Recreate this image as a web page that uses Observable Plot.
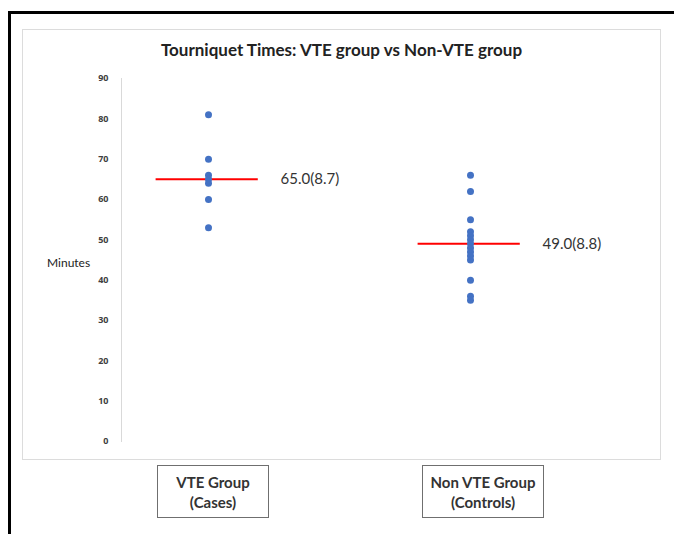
<!DOCTYPE html>
<html><head><meta charset="utf-8">
<script src="https://cdn.jsdelivr.net/npm/d3@7"></script>
<script src="https://cdn.jsdelivr.net/npm/@observablehq/plot@0.6"></script>
<style>
body{margin:0;background:#fff;font-family:Lato,"Open Sans",sans-serif;}
#root{position:relative;width:674px;height:534px;overflow:hidden;}
#frame{position:absolute;left:8px;top:11px;width:700px;height:600px;border-left:3px solid #000;border-top:3px solid #000;}
#panel{position:absolute;left:22px;top:29px;width:637px;height:429px;border:1px solid #dcdcdc;}
#title{position:absolute;left:22px;width:639px;top:40px;text-align:center;font-weight:bold;font-size:17px;line-height:20px;color:#222;}
#ylab{position:absolute;left:47px;top:255px;font-size:12px;color:#222;}
#chart{position:absolute;left:0;top:0;}
.box{position:absolute;top:465px;height:53px;border:1.5px solid #6f6f6f;box-sizing:border-box;display:flex;align-items:center;justify-content:center;text-align:center;font-weight:bold;font-size:15px;line-height:20px;color:#333;}
</style>
</head><body>
<div id="root">
<div id="frame"></div>
<div id="panel"></div>
<div id="title">Tourniquet Times: VTE group vs Non-VTE group</div>
<div id="ylab">Minutes</div>
<div id="chart"></div>
</div>
<script>
const groups = ["VTE Group", "Non VTE Group"];
const groupLines = [["VTE Group", "(Cases)"], ["Non VTE Group", "(Controls)"]];
const vteTimes = [81, 70, 66, 65, 64, 60, 53];
const nonVteTimes = [66, 62, 55, 52, 51, 50, 49, 48, 47, 46, 45, 40, 36, 35];
const means = [65.0, 49.0];
const sds = [8.7, 8.8];
const yTicks = [0, 10, 20, 30, 40, 50, 60, 70, 80, 90];

const points = [
  ...vteTimes.map(v => ({g: 0, v})),
  ...nonVteTimes.map(v => ({g: 1, v}))
];
const summary = means.map((m, i) => ({g: i, m, label: `${m.toFixed(1)}(${sds[i].toFixed(1)})`}));

const plot = Plot.plot({
  width: 674,
  height: 534,
  marginLeft: 121,
  marginTop: 78,
  marginBottom: 93,
  marginRight: 14,
  style: {background: "transparent", overflow: "visible"},
  x: {domain: [0, 1], range: [208, 470], axis: null},
  y: {domain: [0, 90], ticks: yTicks},
  marks: [
    Plot.frame({anchor: "left", stroke: "#d9d9d9"}),
    Plot.axisY({ticks: yTicks, tickSize: 0, tickPadding: 13, label: null, fontSize: 9, fontWeight: "bold", fill: "#404040"}),
    Plot.ruleY(summary, {y: "m", x1: d => d.g - 0.2, x2: d => d.g + 0.19, stroke: "#ff0000", strokeWidth: 2}),
    Plot.dot(points, {x: "g", y: "v", r: 3.5, fill: "#4472c4", stroke: "none"}),
    Plot.text(summary, {x: d => d.g + 0.275, y: "m", text: "label", textAnchor: "start", fontSize: 15, fill: "#333", fontFamily: "Lato, 'Open Sans', sans-serif"})
  ]
});
document.getElementById("chart").appendChild(plot);

const boxPos = [{left: 157, width: 112}, {left: 422, width: 122}];
groupLines.forEach((lines, i) => {
  const b = document.createElement("div");
  b.className = "box";
  b.style.left = boxPos[i].left + "px";
  b.style.width = boxPos[i].width + "px";
  b.innerHTML = lines.join("<br>");
  document.getElementById("root").appendChild(b);
});
</script>
</body></html>
